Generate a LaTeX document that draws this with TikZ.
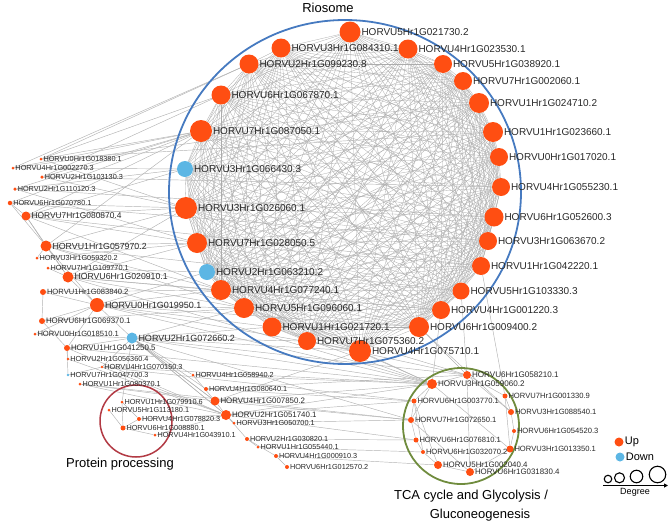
\documentclass[tikz,border=0pt]{standalone}
\usepackage{fontspec}
\setmainfont{Liberation Sans}
\usetikzlibrary{backgrounds,arrows.meta}
\definecolor{upc}{RGB}{255,78,18}
\definecolor{downc}{RGB}{92,182,228}
\definecolor{ringblue}{RGB}{70,122,192}
\definecolor{protred}{RGB}{178,58,68}
\definecolor{tcagreen}{RGB}{112,140,62}
\definecolor{txt}{RGB}{40,40,40}
\newcommand{\mkgene}[7]{%
  \node[gnode,fill=#5,minimum size=#4pt] (#1) at (#2,#3) {};
  \node[glab,font=\fontsize{#6}{#6}\selectfont] (#1l) at (#1.east) {#7};}
\begin{document}
\begin{tikzpicture}[x=1pt,y=-1pt,
  gnode/.style={circle,draw=none,inner sep=0pt},
  glab/.style={anchor=west,inner sep=0.6pt,text=txt},
  ringedge/.style={draw=gray!65,line width=0.3pt},
  oedge/.style={draw=gray!60,line width=0.45pt},
  grpcircle/.style={draw,line width=1.8pt,fill=none},
  title/.style={font=\fontsize{13}{13}\selectfont,text=black},
  degc/.style={circle,draw=black,line width=1.1pt,inner sep=0pt}]
\useasboundingbox (0,0) rectangle (669,525);
% group circles
\draw[grpcircle,ringblue] (345,192) ellipse [x radius=176, y radius=172];
\draw[grpcircle,protred,line width=1.5pt] (136,421) circle [radius=36];
\draw[grpcircle,tcagreen] (461,426) circle [radius=58];
% ring nodes
\mkgene{R1}{350}{32}{21}{upc}{10}{HORVU5Hr1G021730.2}
\mkgene{R2}{408}{49}{19}{upc}{10}{HORVU4Hr1G023530.1}
\mkgene{R3}{443}{64}{18}{upc}{10}{HORVU5Hr1G038920.1}
\mkgene{R4}{463}{81}{18}{upc}{10}{HORVU7Hr1G002060.1}
\mkgene{R5}{479}{103}{20}{upc}{10}{HORVU1Hr1G024710.2}
\mkgene{R6}{493}{132}{20}{upc}{10}{HORVU1Hr1G023660.1}
\mkgene{R7}{499}{157}{18}{upc}{10}{HORVU0Hr1G017020.1}
\mkgene{R8}{501}{187}{18}{upc}{10}{HORVU4Hr1G055230.1}
\mkgene{R9}{494}{217}{19}{upc}{10}{HORVU6Hr1G052600.3}
\mkgene{R10}{488}{241}{18}{upc}{10}{HORVU3Hr1G063670.2}
\mkgene{R11}{481}{266}{18}{upc}{10}{HORVU1Hr1G042220.1}
\mkgene{R12}{461}{291}{17}{upc}{10}{HORVU5Hr1G103330.3}
\mkgene{R13}{441}{310}{18}{upc}{10}{HORVU4Hr1G001220.3}
\mkgene{R14}{419}{327}{20}{upc}{10}{HORVU6Hr1G009400.2}
\mkgene{R15}{360}{351}{22}{upc}{10}{HORVU4Hr1G075710.1}
\mkgene{R16}{307}{341}{18}{upc}{10}{HORVU7Hr1G075360.2}
\mkgene{R17}{272}{327}{19}{upc}{10}{HORVU1Hr1G021720.1}
\mkgene{R18}{244}{308}{20}{upc}{10}{HORVU5Hr1G096060.1}
\mkgene{R19}{221}{290}{20}{upc}{10}{HORVU4Hr1G077240.1}
\mkgene{R20}{207}{272}{16}{downc}{10}{HORVU2Hr1G063210.2}
\mkgene{R21}{197}{243}{20}{upc}{10}{HORVU7Hr1G028050.5}
\mkgene{R22}{186}{208}{22}{upc}{10}{HORVU3Hr1G026060.1}
\mkgene{R23}{185}{169}{16}{downc}{10}{HORVU3Hr1G066430.3}
\mkgene{R24}{201}{131}{22}{upc}{10}{HORVU7Hr1G087050.1}
\mkgene{R25}{221}{95}{19}{upc}{10}{HORVU6Hr1G067870.1}
\mkgene{R26}{249}{64}{19}{upc}{10}{HORVU2Hr1G099230.8}
\mkgene{R27}{281}{48}{19}{upc}{10}{HORVU3Hr1G084310.1}
% left nodes
\mkgene{L1}{41}{159}{3}{upc}{7.3}{HORVU0Hr1G018380.1}
\mkgene{L2}{13}{168}{3}{upc}{7.3}{HORVU4Hr1G002270.3}
\mkgene{L3}{42}{177}{3.5}{upc}{7.3}{HORVU2Hr1G103130.3}
\mkgene{L4}{15}{189}{3.5}{upc}{7.3}{HORVU2Hr1G110120.3}
\mkgene{L5}{10}{203}{4.5}{upc}{7.3}{HORVU6Hr1G070780.1}
\mkgene{L6}{26}{216}{9}{upc}{8.4}{HORVU7Hr1G080870.4}
\mkgene{L7}{46}{246}{11}{upc}{8.8}{HORVU1Hr1G057970.2}
\mkgene{L8}{37}{258}{3}{upc}{7.3}{HORVU3Hr1G059320.2}
\mkgene{L9}{48}{268}{3}{upc}{7.3}{HORVU7Hr1G109770.1}
\mkgene{L10}{68}{277}{11}{upc}{8.7}{HORVU6Hr1G020910.1}
\mkgene{L11}{43}{292}{6}{upc}{7.6}{HORVU1Hr1G083840.2}
\mkgene{L12}{97}{305}{14}{upc}{9}{HORVU0Hr1G019950.1}
\mkgene{L13}{42}{321}{6}{upc}{7.9}{HORVU6Hr1G069370.1}
\mkgene{L14}{35}{334}{3}{upc}{7.6}{HORVU0Hr1G018510.1}
\mkgene{L15}{132}{338}{11}{downc}{9}{HORVU2Hr1G072660.2}
\mkgene{L16}{67}{348}{6}{upc}{7.9}{HORVU1Hr1G041250.5}
\mkgene{L17}{68}{359}{2.6}{upc}{7.3}{HORVU2Hr1G056360.4}
\mkgene{L18}{102}{367}{2.6}{upc}{7.3}{HORVU4Hr1G070150.3}
\mkgene{L19}{68}{375}{2.6}{downc}{7.3}{HORVU7Hr1G047700.3}
\mkgene{L20}{80}{384}{3}{upc}{7.3}{HORVU1Hr1G080370.1}
% protein processing
\mkgene{P1}{122}{402}{3}{upc}{7.3}{HORVU1Hr1G079910.6}
\mkgene{P2}{109}{410}{3}{upc}{7.3}{HORVU5Hr1G113180.1}
\mkgene{P3}{139}{419}{4}{upc}{7.3}{HORVU4Hr1G078820.3}
\mkgene{P4}{123}{428}{5}{upc}{7.3}{HORVU6Hr1G008880.1}
\mkgene{P5}{155}{435}{3}{upc}{7.3}{HORVU4Hr1G043910.1}
% middle bottom
\mkgene{M1}{193}{375}{3}{upc}{7.3}{HORVU4Hr1G058940.2}
\mkgene{M2}{206}{389}{4}{upc}{7.3}{HORVU4Hr1G080640.1}
\mkgene{M3}{215}{401}{9}{upc}{7.9}{HORVU4Hr1G007850.2}
\mkgene{M4}{226}{415}{10}{upc}{7.9}{HORVU2Hr1G051740.1}
\mkgene{M5}{234}{423}{3}{upc}{7.3}{HORVU3Hr1G050700.1}
\mkgene{M6}{247}{439}{4}{upc}{7.3}{HORVU2Hr1G030820.1}
\mkgene{M7}{258}{447}{3}{upc}{7.3}{HORVU1Hr1G055440.1}
\mkgene{M8}{276}{456}{4}{upc}{7.3}{HORVU4Hr1G000910.3}
\mkgene{M9}{287}{467}{4}{upc}{7.3}{HORVU6Hr1G012570.2}
% TCA
\mkgene{T1}{467}{375}{8}{upc}{8.1}{HORVU6Hr1G058210.1}
\mkgene{T2}{432}{384}{10}{upc}{8.1}{HORVU3Hr1G059060.2}
\mkgene{T3}{505}{396}{5}{upc}{7.6}{HORVU7Hr1G001330.9}
\mkgene{T4}{414}{401}{5}{upc}{7.6}{HORVU6Hr1G003770.1}
\mkgene{T5}{511}{412}{6}{upc}{7.6}{HORVU3Hr1G088540.1}
\mkgene{T6}{411}{420}{6}{upc}{7.6}{HORVU7Hr1G072650.1}
\mkgene{T7}{514}{431}{4}{upc}{7.6}{HORVU6Hr1G054520.3}
\mkgene{T8}{416}{440}{5}{upc}{7.6}{HORVU6Hr1G076810.1}
\mkgene{T9}{510}{449}{7}{upc}{7.6}{HORVU3Hr1G013350.1}
\mkgene{T10}{423}{452}{4}{upc}{7.6}{HORVU6Hr1G032070.2}
\mkgene{T11}{438}{465}{8}{upc}{7.9}{HORVU5Hr1G002040.4}
\mkgene{T12}{470}{472}{8}{upc}{7.9}{HORVU6Hr1G031830.4}
% titles
\node[title] (tRio) at (328,8) {Riosome};
\node[title] (tProt) at (120,464) {Protein processing};
\node[title] (tTca1) at (471,496) {TCA cycle and Glycolysis /};
\node[title] (tTca2) at (480,515) {Gluconeogenesis};
% legend
\node[gnode,fill=upc,minimum size=9pt] (lgUp) at (619,442) {};
\node[anchor=west,inner sep=1pt,font=\fontsize{11}{11}\selectfont] (lgUpT) at (lgUp.east) {Up};
\node[gnode,fill=downc,minimum size=9pt] (lgDn) at (620,457) {};
\node[anchor=west,inner sep=1pt,font=\fontsize{11}{11}\selectfont] (lgDnT) at (lgDn.east) {Down};
\node[degc,minimum size=7.5pt] (dg1) at (608,479) {};
\node[degc,minimum size=10pt] (dg2) at (619.5,477.8) {};
\node[degc,minimum size=12.5pt] (dg3) at (636.5,476.5) {};
\node[degc,minimum size=16.5pt] (dg4) at (657.5,474.5) {};
\coordinate (dgA) at (603,485.5);
\coordinate (dgB) at (668,485.5);
\draw[line width=1.2pt,-{Triangle[length=4pt,width=4pt]}] (dgA) -- (dgB);
\node[font=\fontsize{9}{9}\selectfont] (dgT) at (635,492.5) {Degree};
% edges
\begin{scope}[on background layer]
\foreach \i in {1,...,26}{%
  \pgfmathtruncatemacro\k{\i+1}%
  \foreach \j in {\k,...,27}{\draw[ringedge] (R\i) -- (R\j);}}
\foreach \a/\b in {L1/R24,L1/R25,L1/R22,L1/R26,L1/R6,
  L2/R24,L2/R23,L2/R26,L2/R5,
  L3/R24,L3/R22,L3/R25,L3/R8,
  L4/R23,L4/R24,L4/R21,L4/R9,
  L5/R22,L5/R24,L5/L6,L5/L7,L5/R10,
  L6/R22,L6/R23,L6/R24,L6/R21,L6/R19,L6/L7,L6/L10,L6/R11,
  L7/R21,L7/R22,L7/R24,L7/R19,L7/R18,L7/L10,L7/L12,L7/R12,
  L8/R21,L8/L7,L9/R20,L9/L10,
  L10/R19,L10/R21,L10/R22,L10/R18,L10/L12,L10/T2,L10/R13,
  L11/R19,L11/L12,L11/L13,
  L12/R18,L12/R19,L12/R20,L12/R17,L12/R15,L12/L15,L12/T2,L12/R14,
  L13/L12,L13/R18,L13/L16,L14/L12,L14/L15,
  L15/R16,L15/R17,L15/R15,L15/R18,L15/T1,L15/T2,L15/M3,L15/M4,L15/T6,
  L16/L15,L16/L12,L16/M4,L16/T2,L17/L16,L17/M4,
  L18/L15,L18/M4,L18/T2,L18/T4,L19/L16,L19/L18,L20/M4,L20/M3,L20/T6,
  P1/P4,P1/P3,P1/L15,P2/P4,P3/P4,P3/M4,P4/P5,P5/M4,
  M1/L15,M1/T2,M1/M3,M2/L15,M2/T1,M2/T4,M3/L15,M3/T2,M3/T6,M3/R15,
  M4/M3,M4/T2,M4/T4,M4/T8,M4/L15,M5/M4,M5/T6,M6/M4,M6/T8,M7/M6,M7/T10,
  M8/M6,M8/T11,M9/M8,
  T1/T2,T2/T4,T2/T6,T4/T6,T6/T8,T8/T10,T10/T11,T11/T12,T12/T9,T9/T7,
  T7/T5,T5/T3,T3/T1,T1/T5,T2/T9,T4/T11,T6/T12,T1/T12,T3/T9,T4/T10,
  T1/R14,T1/R12,T2/R15,T2/R13,T3/R11,T5/R14,T1/R16,T2/R17,T1/R18,T2/R19}
  {\draw[oedge] (\a) -- (\b);}
\end{scope}
\end{tikzpicture}
\end{document}
